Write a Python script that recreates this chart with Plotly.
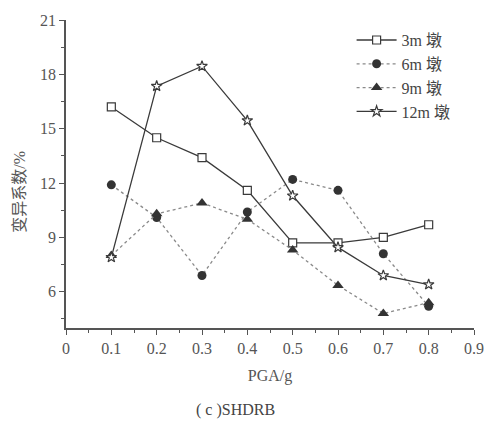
import plotly.graph_objects as go

pga = [0.1, 0.2, 0.3, 0.4, 0.5, 0.6, 0.7, 0.8]
cv_3m = [16.2, 14.5, 13.4, 11.6, 8.7, 8.7, 9.0, 9.7]
cv_6m = [11.9, 10.1, 6.9, 10.4, 12.2, 11.6, 8.1, 5.2]
cv_9m = [8.0, 10.3, 10.9, 10.0, 8.3, 6.35, 4.8, 5.4]
cv_12m = [7.9, 17.35, 18.45, 15.45, 11.3, 8.45, 6.9, 6.4]
names = ["3m 墩", "6m 墩", "9m 墩", "12m 墩"]

FONT = "'Liberation Serif', 'Times New Roman', 'Noto Sans CJK SC', serif"
LINE = "#3a3a3a"
DOT = "#8a8a8a"

fig = go.Figure()
fig.add_trace(go.Scatter(x=pga, y=cv_3m, name=names[0], mode="lines+markers",
                         line=dict(color=LINE, width=1.3),
                         marker=dict(symbol="square", size=8, color="white",
                                     line=dict(color=LINE, width=1.2))))
fig.add_trace(go.Scatter(x=pga, y=cv_6m, name=names[1], mode="lines+markers",
                         line=dict(color=DOT, width=1.3, dash="dot"),
                         marker=dict(symbol="circle", size=9, color="#333333")))
fig.add_trace(go.Scatter(x=pga, y=cv_9m, name=names[2], mode="lines+markers",
                         line=dict(color=DOT, width=1.3, dash="dot"),
                         marker=dict(symbol="triangle-up", size=10, color="#333333")))
fig.add_trace(go.Scatter(x=pga, y=cv_12m, name=names[3], mode="lines+markers",
                         line=dict(color=LINE, width=1.3),
                         marker=dict(symbol="star", size=8, color="white",
                                     line=dict(color=LINE, width=1.2))))

fig.update_layout(
    width=496, height=427,
    margin=dict(l=66, r=13, t=14, b=99),
    paper_bgcolor="white", plot_bgcolor="white",
    font=dict(family=FONT, size=16, color="#555555"),
    showlegend=True,
    legend=dict(x=0.70, y=0.99, xanchor="left", yanchor="top",
                bgcolor="rgba(0,0,0,0)", font=dict(size=16, color="#444444"),
                tracegroupgap=0, itemwidth=40),
    xaxis=dict(range=[0, 0.9], tickvals=[0, 0.1, 0.2, 0.3, 0.4, 0.5, 0.6, 0.7, 0.8, 0.9],
               ticktext=["0", "0.1", "0.2", "0.3", "0.4", "0.5", "0.6", "0.7", "0.8", "0.9"],
               showline=True, linecolor="#555555", linewidth=1.5,
               ticks="outside", ticklen=5, tickcolor="#555555", tickwidth=1.2,
               minor=dict(dtick=0.05, tick0=0, ticks="outside", ticklen=3, tickcolor="#555555"),
               showgrid=False, zeroline=False,
               title=dict(text="PGA/g", standoff=14, font=dict(size=16, color="#555555"))),
    yaxis=dict(range=[4, 21], tickvals=[6, 9, 12, 15, 18, 21],
               showline=True, linecolor="#555555", linewidth=1.5,
               ticks="outside", ticklen=5, tickcolor="#555555", tickwidth=1.2,
               minor=dict(dtick=1.5, tick0=0, ticks="outside", ticklen=3, tickcolor="#555555"),
               showgrid=False, zeroline=False),
    annotations=[
        dict(text="变异系数/%", xref="paper", yref="paper", x=-0.115, y=0.443,
             xanchor="center", yanchor="middle", textangle=-90, showarrow=False,
             font=dict(size=16, color="#555555")),
        dict(text="( c )SHDRB", xref="paper", yref="paper", x=0.415, y=-0.267,
             xanchor="center", yanchor="middle", showarrow=False,
             font=dict(size=16, color="#444444"))],
)

fig.write_html("out.html")
